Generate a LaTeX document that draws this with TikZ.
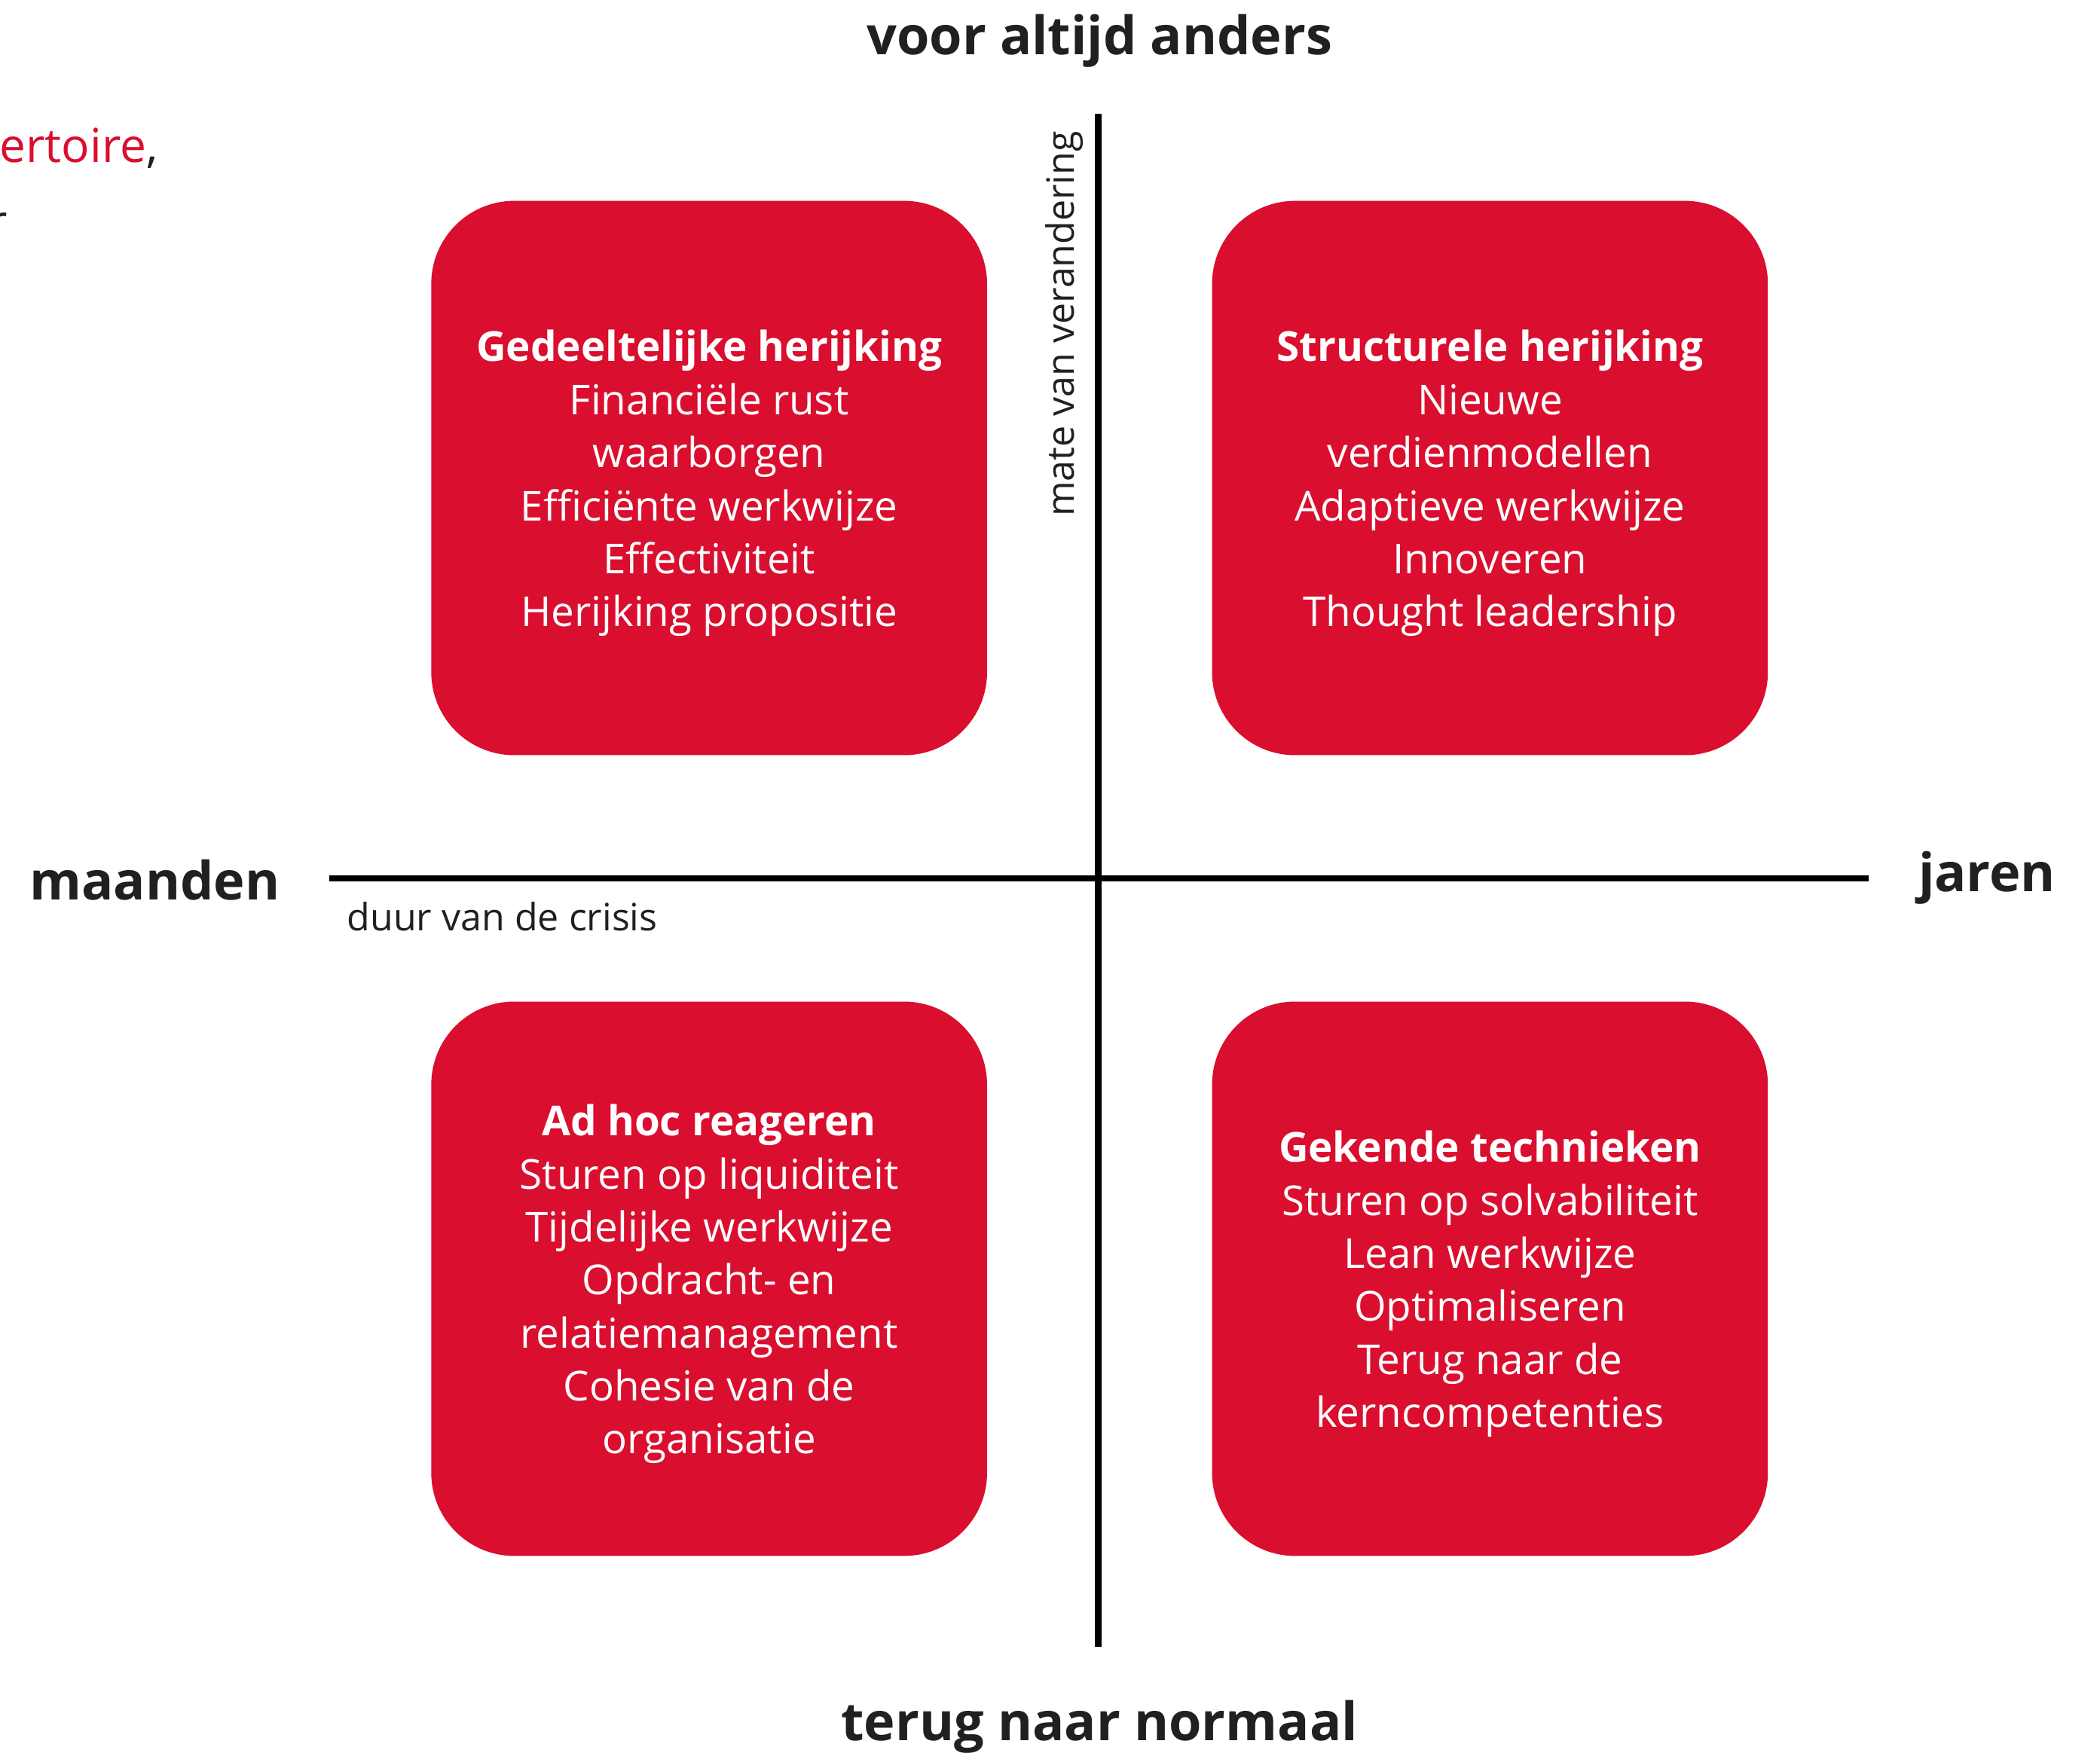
\documentclass[tikz,border=0pt]{standalone}
\usepackage{fontspec}
\setmainfont{Open Sans}
\definecolor{boxred}{RGB}{218,14,46}
\definecolor{ink}{RGB}{32,32,32}
\begin{document}
\begin{tikzpicture}[x=1pt,y=-1pt,
  quad/.style={fill=boxred, rounded corners=62pt, draw=none},
  qtext/.style={text=white, align=center, font=\fontsize{30.8}{39.6}\selectfont, anchor=center},
  axislabel/.style={text=ink, font=\fontsize{39.5}{45}\selectfont\bfseries, anchor=base, inner sep=0pt},
  smalllabel/.style={text=ink, font=\fontsize{28.2}{33}\selectfont, inner sep=0pt},
  axisline/.style={line width=5pt, draw=black}]
\useasboundingbox (0,0) rectangle (1568,1309);
\fill[white] (0,0) rectangle (1568,1309);

% quadrant boxes
\path[quad] (322,150) rectangle (737,564);
\path[quad] (905,150) rectangle (1320,564);
\path[quad] (322,748) rectangle (737,1162);
\path[quad] (905,748) rectangle (1320,1162);

\node[qtext] (tl) at (529.5,361) {\textbf{Gedeeltelijke herijking}\\Financiële rust\\waarborgen\\Efficiënte werkwijze\\Effectiviteit\\Herijking propositie};
\node[qtext] (tr) at (1112.5,361) {\textbf{Structurele herijking}\\Nieuwe\\verdienmodellen\\Adaptieve werkwijze\\Innoveren\\Thought leadership};
\node[qtext] (bl) at (529.5,959) {\textbf{Ad hoc reageren}\\Sturen op liquiditeit\\Tijdelijke werkwijze\\Opdracht- en\\relatiemanagement\\Cohesie van de\\organisatie};
\node[qtext] (br) at (1112.5,959) {\textbf{Gekende technieken}\\Sturen op solvabiliteit\\Lean werkwijze\\Optimaliseren\\Terug naar de\\kerncompetenties};

% axes
\coordinate (vtop) at (820,85);
\coordinate (vbot) at (820,1230);
\coordinate (hleft) at (246,656);
\coordinate (hright) at (1395,656);
\draw[axisline] (vtop) -- (vbot);
\draw[axisline] (hleft) -- (hright);

% axis labels
\node[axislabel] (top) at (821,41) {voor altijd anders};
\node[axislabel] (bottom) at (821,1300) {terug naar normaal};
\node[axislabel, anchor=base west] (left) at (22,672) {maanden};
\node[axislabel, anchor=base east] (right) at (1535,666) {jaren};
\node[smalllabel, anchor=base west] (dur) at (259,695) {duur van de crisis};
\node[smalllabel, anchor=base west, rotate=90] (mate) at (802,386) {mate van verandering};

% cut-off text at the left edge
\node[text=ink, font=\fontsize{35}{40}\selectfont, anchor=base east, inner sep=0pt] (rep) at (118,121) {\textcolor{boxred}{ertoire},};
\node[text=ink, font=\fontsize{35}{40}\selectfont, anchor=base east, inner sep=0pt] (r2) at (6,178) {r};
\end{tikzpicture}
\end{document}
